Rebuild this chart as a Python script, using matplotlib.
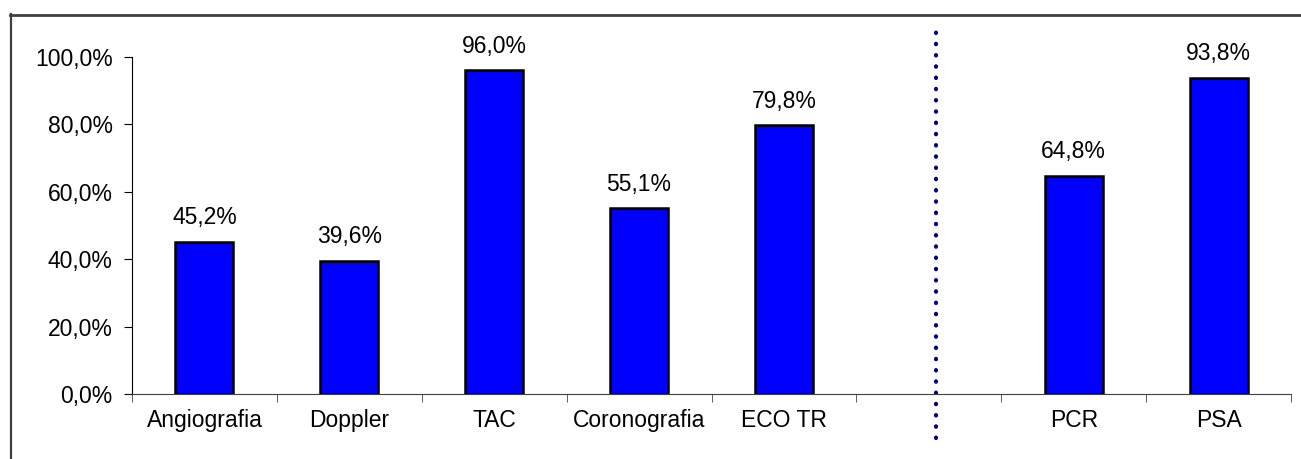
import matplotlib
matplotlib.use("Agg")
import matplotlib.pyplot as plt
from matplotlib.lines import Line2D
import numpy as np

plt.rcParams['font.family'] = ['Liberation Sans', 'DejaVu Sans']

# dati
categorie = ["Angiografia", "Doppler", "TAC", "Coronografia", "ECO TR", "", "PCR", "PSA"]
valori = [45.2, 39.6, 96.0, 55.1, 79.8, None, 64.8, 93.8]
etichette_y = ["0,0%", "20,0%", "40,0%", "60,0%", "80,0%", "100,0%"]
pos_y = [0, 20, 40, 60, 80, 100]

fig = plt.figure(figsize=(13.01, 4.59), dpi=100)
ax = fig.add_axes([132 / 1301, 1 - 394 / 459, (1291 - 132) / 1301, (394 - 57) / 459])

x = np.arange(len(categorie))
xs = [i for i, v in zip(x, valori) if v is not None]
vs = [v for v in valori if v is not None]
barre = ax.bar(xs, vs, width=0.4, color="#0000ff", edgecolor="black", linewidth=1.8)
ax.bar_label(barre, labels=[f"{v:.1f}%".replace(".", ",") for v in vs],
             padding=9, fontsize=16.5)

ax.set_xlim(-0.5, len(categorie) - 0.5)
ax.set_ylim(0, 100)
ax.set_yticks(pos_y)
ax.set_yticklabels(etichette_y, fontsize=16.5)
ax.set_xticks(x)
ax.set_xticklabels(categorie, fontsize=16.5)
# tacche tra le categorie
ax.set_xticks(np.arange(len(categorie) + 1) - 0.5, minor=True)
ax.tick_params(axis="x", which="major", length=0, pad=11)
ax.tick_params(axis="x", which="minor", length=6, color="#404040")
ax.tick_params(axis="y", length=6, pad=8)

for s in ["top", "right"]:
    ax.spines[s].set_visible(False)
ax.spines["bottom"].set_color("#404040")

# linea punteggiata di separazione
ax.axvline(5.05, ymin=-0.131, ymax=1.074, color="#000080", linestyle=(0, (0.1, 2.6)),
           linewidth=3, dash_capstyle="round", clip_on=False)

# cornice del grafico
fig.add_artist(Line2D([11 / 1301, 11 / 1301], [0, 1 - 14 / 459], color="#404040",
                      linewidth=1.6, transform=fig.transFigure))
fig.add_artist(Line2D([10 / 1301, 1], [1 - 14.5 / 459, 1 - 14.5 / 459], color="#404040",
                      linewidth=2, transform=fig.transFigure))

fig.savefig("out.png", dpi=100)
